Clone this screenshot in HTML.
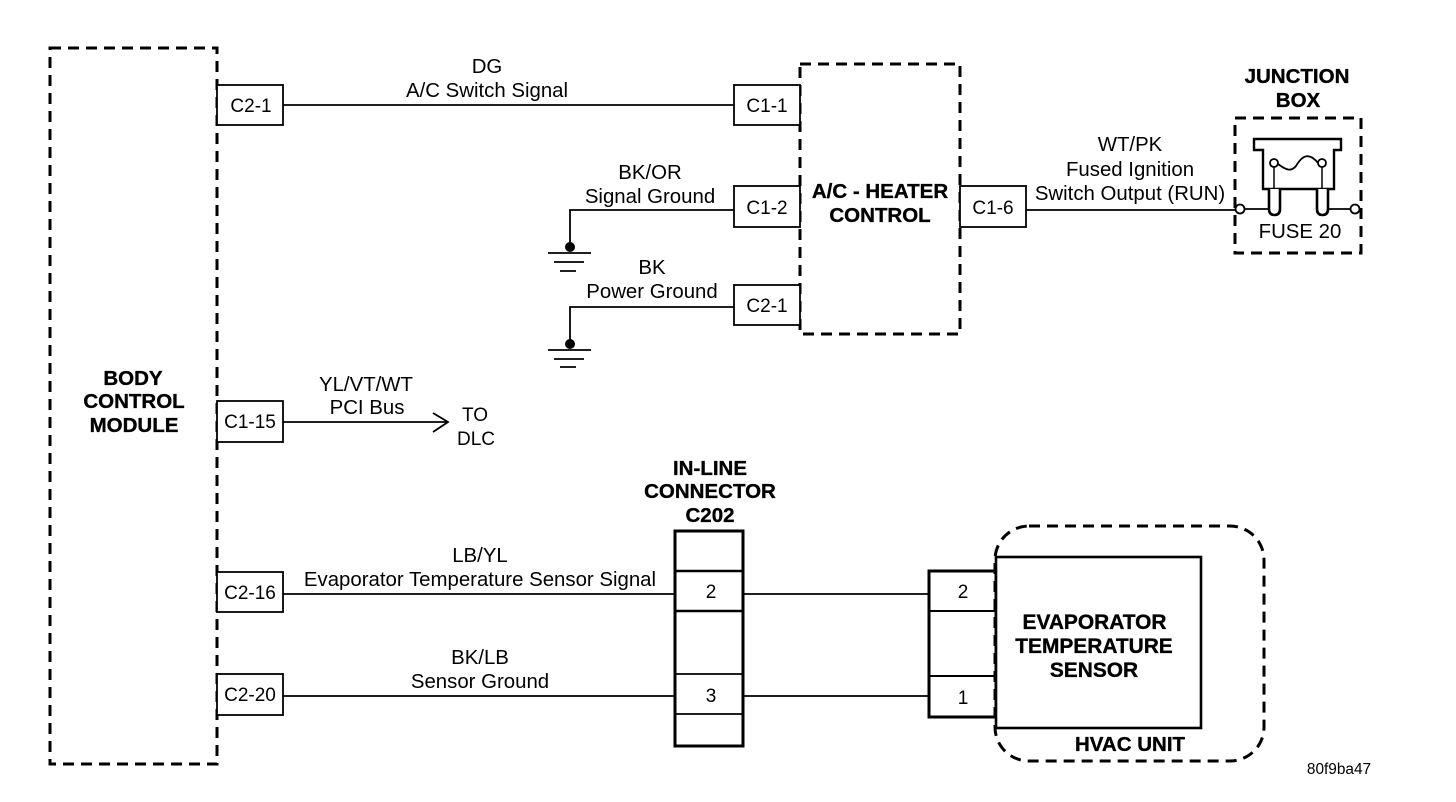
<!DOCTYPE html>
<html>
<head>
<meta charset="utf-8">
<style>
html,body{margin:0;padding:0;background:#fff;width:1456px;height:802px;overflow:hidden}
svg{display:block}
text{font-family:"Liberation Sans",sans-serif;fill:#000;text-anchor:middle;font-size:19px}
.l{font-size:20.4px}
.b{font-weight:bold;font-size:20.5px;stroke:#000;stroke-width:.35px}
.e{font-size:20.9px}
</style>
</head>
<body>
<svg width="1456" height="802" viewBox="0 0 1456 802" xmlns="http://www.w3.org/2000/svg">
<g fill="none" stroke="#000">
<!-- dashed boxes -->
<rect x="50" y="48" width="167" height="716" stroke-width="3" stroke-dasharray="11 7"/>
<rect x="800" y="64" width="160" height="270" stroke-width="3" stroke-dasharray="11 7"/>
<rect x="1235" y="118" width="126" height="135" stroke-width="3" stroke-dasharray="11 7"/>
<rect x="995" y="526" width="269" height="235" rx="34" stroke-width="3" stroke-dasharray="11 7"/>
<!-- pins -->
<g stroke-width="1.8" fill="#fff">
<rect x="217" y="85" width="66" height="40"/>
<rect x="217" y="401" width="66" height="41"/>
<rect x="217" y="572" width="66" height="40"/>
<rect x="217" y="674" width="66" height="41"/>
<rect x="734" y="85" width="66" height="40"/>
<rect x="734" y="186" width="66" height="41"/>
<rect x="734" y="285" width="66" height="40"/>
<rect x="960" y="186" width="66" height="41"/>
</g>
<!-- wires -->
<g stroke-width="1.8">
<path d="M283 105H734"/>
<path d="M734 210H570V246"/>
<path d="M734 307H570V344"/>
<path d="M283 422H447M433 413L448 422L433 432"/>
<path d="M1026 210H1235"/>
<path d="M283 594H675"/>
<path d="M283 696H675"/>
<path d="M744 594H929"/>
<path d="M744 696H929"/>
</g>
<!-- ground -->
<g stroke-width="1.8">
<path d="M548 253H591M554 262H584M560 271H576"/>
<path d="M548 350H591M554 359H584M560 367H576"/>
</g>
<!-- in-line connector -->
<rect x="675" y="531" width="68" height="215" stroke-width="3"/>
<path d="M675 571H743M675 611H743" stroke-width="2.6"/>
<path d="M675 674H743M675 714H743" stroke-width="1.8"/>
<!-- sensor connector -->
<rect x="929" y="571" width="67" height="146" stroke-width="3"/>
<path d="M929 611H996M929 676H996" stroke-width="2"/>
<!-- sensor -->
<rect x="996" y="557" width="205" height="171" stroke-width="2.6" fill="#fff"/>
<!-- fuse -->
<path d="M1254 139H1341V150H1334V189H1263V150H1254Z" stroke-width="2.4"/>
<path d="M1274 163V189M1322 163V189" stroke-width="1.5"/>
<path d="M1278 164C1286 170 1291 172 1296 166C1303 154 1310 153 1318 163" stroke-width="1.8"/>
<circle cx="1274" cy="163" r="4" stroke-width="1.8" fill="#fff"/>
<circle cx="1322" cy="163" r="4" stroke-width="1.8" fill="#fff"/>
<path d="M1269 189V209Q1269 215 1274.500 215Q1280 215 1280 209V189" stroke-width="2.6" fill="#fff"/>
<path d="M1317 189V209Q1317 215 1322.500 215Q1328 215 1328 209V189" stroke-width="2.6" fill="#fff"/>
<path d="M1244 209H1269M1328 209H1351" stroke-width="1.8"/>
<circle cx="1240" cy="209" r="4.500" stroke-width="1.8" fill="#fff"/>
<circle cx="1355" cy="209" r="4.500" stroke-width="1.8" fill="#fff"/>
</g>
<circle cx="570" cy="247" r="5"/>
<circle cx="570" cy="344" r="5"/>
<circle cx="1017" cy="640" r="1.200"/>
<!-- pin labels -->
<text x="251" y="112">C2-1</text>
<text x="767" y="112">C1-1</text>
<text x="767" y="214">C1-2</text>
<text x="767" y="312">C2-1</text>
<text x="993" y="214">C1-6</text>
<text x="250" y="428">C1-15</text>
<text x="250" y="599">C2-16</text>
<text x="250" y="701">C2-20</text>
<text x="711" y="598">2</text>
<text x="711" y="702">3</text>
<text x="963" y="598">2</text>
<text x="963" y="704">1</text>
<!-- wire labels -->
<text class="l" x="487" y="73">DG</text>
<text class="l" x="487" y="97">A/C Switch Signal</text>
<text class="l" x="650" y="179">BK/OR</text>
<text class="l" x="650" y="203">Signal Ground</text>
<text class="l" x="652" y="274">BK</text>
<text class="l" x="652" y="298">Power Ground</text>
<text class="l" x="366" y="391">YL/VT/WT</text>
<text class="l" x="367" y="414">PCI Bus</text>
<text x="475" y="421">TO</text>
<text x="476" y="445">DLC</text>
<text class="l" x="1130" y="151">WT/PK</text>
<text class="l" x="1130" y="176">Fused Ignition</text>
<text class="l" x="1130" y="200">Switch Output (RUN)</text>
<text class="l" x="1300" y="238">FUSE 20</text>
<text class="l" x="480" y="562">LB/YL</text>
<text class="l" x="480" y="586">Evaporator Temperature Sensor Signal</text>
<text class="l" x="480" y="664">BK/LB</text>
<text class="l" x="480" y="688">Sensor Ground</text>
<text x="1339" y="774" style="font-size:15.4px">80f9ba47</text>
<!-- bold labels -->
<text class="b" x="133" y="385">BODY</text>
<text class="b" x="134" y="408">CONTROL</text>
<text class="b" x="134" y="432">MODULE</text>
<text class="b" x="880" y="198">A/C - HEATER</text>
<text class="b" x="880" y="222">CONTROL</text>
<text class="b" x="1297" y="83">JUNCTION</text>
<text class="b" x="1298" y="107">BOX</text>
<text class="b" x="710" y="475">IN-LINE</text>
<text class="b" x="710" y="498">CONNECTOR</text>
<text class="b" x="710" y="522">C202</text>
<text class="b e" x="1094.500" y="629">EVAPORATOR</text>
<text class="b e" x="1094" y="653">TEMPERATURE</text>
<text class="b e" x="1094" y="677">SENSOR</text>
<text class="b" x="1130" y="751">HVAC UNIT</text>
</svg>
</body>
</html>
